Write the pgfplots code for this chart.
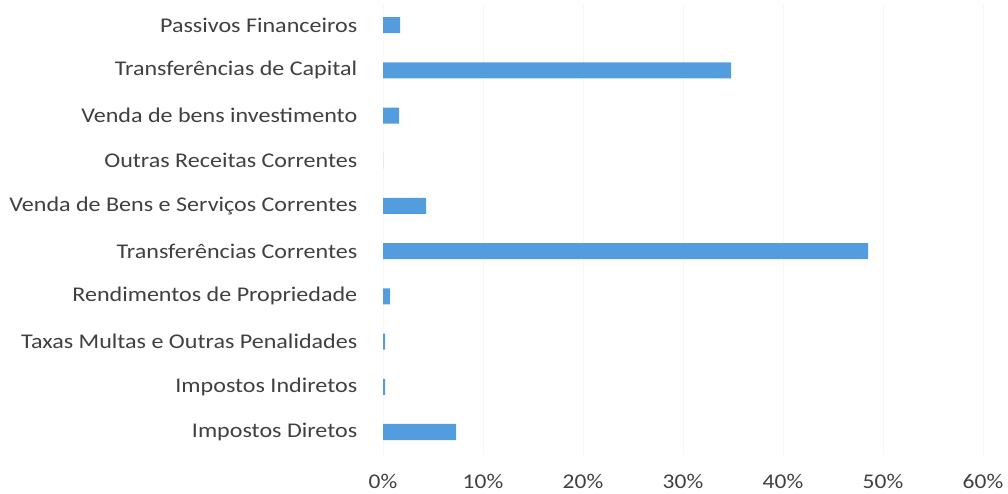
\documentclass[border=0pt]{standalone}
\usepackage{pgfplots}
\pgfplotsset{compat=1.18}
\usepackage{fontspec}
\setmainfont{Carlito}[FakeStretch=1.12]
\newfontfamily\catfont{Carlito}[FakeStretch=1.15]
\definecolor{barblue}{HTML}{539CDE}
\definecolor{txt}{HTML}{404040}
\begin{document}
\begin{tikzpicture}
\useasboundingbox (0,0) rectangle (1008bp,494bp);
\begin{axis}[
  at={(383bp,39.4bp)}, anchor=south west,
  scale only axis, width=600bp, height=452bp,
  xbar, xmin=0, xmax=60, ymin=-0.5, ymax=9.5,
  bar width=16bp,
  axis line style={draw=none},
  tick style={draw=none},
  xmajorgrids, grid style={draw=black!3},
  xtick={0,10,...,60},
  xticklabel={\pgfmathprintnumber{\tick}\%},
  ytick={0,...,9},
  yticklabels={Impostos Diretos, Impostos Indiretos, Taxas Multas e Outras Penalidades, Rendimentos de Propriedade, Transferências Correntes, Venda de Bens e Serviços Correntes, Outras Receitas Correntes, Venda de bens investimento, Transferências de Capital, Passivos Financeiros},
  font=\fontsize{21}{25}\selectfont,
  ticklabel style={text=txt, font=\fontsize{21}{25}\selectfont},
  yticklabel style={anchor=east, xshift=-18bp, font=\catfont\fontsize{21}{25}\selectfont},
  xticklabel style={anchor=base, yshift=-33.4bp},
  /pgf/number format/assume math mode=true,
]
\addplot[fill=barblue, draw=none] coordinates {
  (7.3,0) (0.2,1) (0.2,2) (0.7,3) (48.5,4) (4.3,5) (0,6) (1.6,7) (34.8,8) (1.7,9)
};
\end{axis}
\end{tikzpicture}
\end{document}
